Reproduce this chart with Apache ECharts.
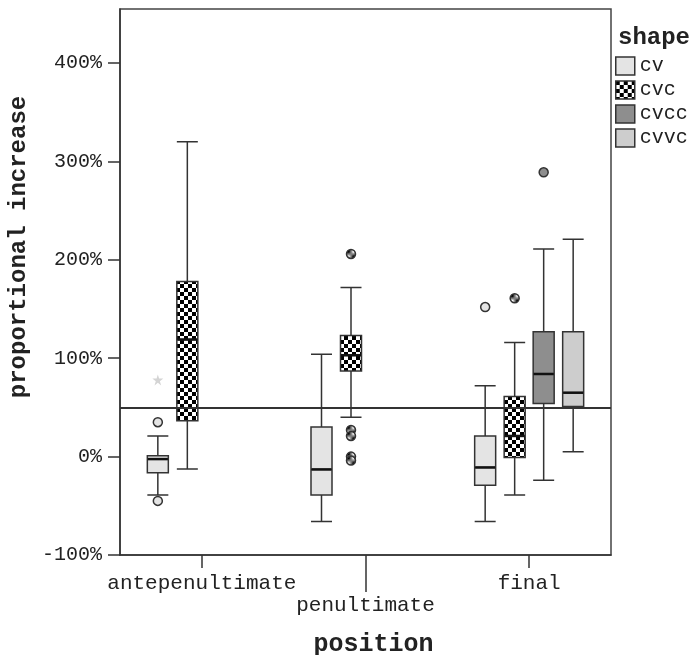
<!DOCTYPE html>
<html>
<head>
<meta charset="utf-8">
<script src="https://cdn.jsdelivr.net/npm/echarts@6/dist/echarts.min.js"></script>
<style>
  html, body { margin: 0; padding: 0; background: #fff; }
  #chart { width: 696px; height: 655px; }
</style>
</head>
<body>
<div id="chart"></div>
<script>
// positions on the x axis
const categories = ['antepenultimate', 'penultimate', 'final']
const shapes = ['cv', 'cvc', 'cvcc', 'cvvc']
const yTicks = [-100, 0, 100, 200, 300, 400]
const refLine = 50

// [min, Q1, median, Q3, max] in %, '-' = no box
const NA = ['-', '-', '-', '-', '-']
const cvBox = [[-39, -16.5, -2.5, 1, 21], [-66, -39, -13, 30, 104], [-66, -29, -11, 21, 72]]
const cvcBox = [[-12.5, 36.5, 119, 178, 320], [40, 87, 103, 123, 172], [-39, -1, 21, 61, 116]]
const cvccBox = [NA, NA, [-24, 54, 84, 127, 211]]
const cvvcBox = [NA, NA, [5, 51, 65, 127, 221]]

// outliers
const cvOutliers = [['antepenultimate', 35], ['antepenultimate', -45], ['final', 152]]
const cvExtremes = [['antepenultimate', 78]]
const cvcOutliers = [['penultimate', 206], ['penultimate', 27], ['penultimate', 21], ['penultimate', 0], ['penultimate', -4], ['final', 161]]
const cvccOutliers = [['final', 289]]
const cvvcOutliers = []

function checker () {
  const c = document.createElement('canvas')
  c.width = 8
  c.height = 8
  const g = c.getContext('2d')
  g.fillStyle = '#fff'
  g.fillRect(0, 0, 8, 8)
  g.fillStyle = '#000'
  g.fillRect(0, 0, 4, 4)
  g.fillRect(4, 4, 4, 4)
  return c
}

const FONT = 'Liberation Mono'
const INK = '#333'
const fills = ['#e4e4e4', { image: checker(), repeat: 'repeat' }, '#8e8e8e', '#cdcdcd']
const boxes = [cvBox, cvcBox, cvccBox, cvvcBox]
const outliers = [cvOutliers, cvcOutliers, cvccOutliers, cvvcOutliers]
// horizontal shift of each shape's box from the category centre (px)
const boxShift = [-44, -14.5, 14.5, 44]

const G = { left: 120, top: 9, width: 491, height: 546, outerBoundsMode: 'none', containLabel: false }
const Y_MIN = -100
const Y_MAX = 455

const grids = [
  Object.assign({ show: true, borderColor: '#444', borderWidth: 1.5 }, G),
  Object.assign({}, G)
]
const xAxes = [
  {
    type: 'category', gridIndex: 0, data: categories, position: 'bottom',
    axisLine: { onZero: false, lineStyle: { color: INK, width: 1.5 } },
    axisTick: { show: true, interval: 0, alignWithLabel: true, length: 13, lineStyle: { color: INK, width: 1.5 } },
    axisLabel: {
      interval: 0, margin: 17, color: '#222', fontFamily: FONT, fontSize: 21, lineHeight: 22,
      formatter: (v, i) => (i === 1 ? '\n' + v : v)
    },
    name: 'position', nameLocation: 'middle', nameGap: 77,
    nameTextStyle: { fontFamily: FONT, fontWeight: 'bold', fontSize: 25, color: '#222', padding: [0, 0, 0, 16] }
  },
  {
    // long tick under the staggered label (own grid so it stays at the bottom)
    type: 'category', gridIndex: 1, data: categories, position: 'bottom',
    axisLine: { show: true, onZero: false, lineStyle: { color: 'rgba(0,0,0,0)', width: 0 } },
    axisTick: {
      show: true, alignWithLabel: true, length: 37,
      interval: (idx, val) => val === 'penultimate',
      lineStyle: { color: INK, width: 1.5 }
    },
    axisLabel: { show: true, interval: 0, formatter: () => '' }
  }
]
const yAxes = [
  {
    type: 'value', gridIndex: 0, min: Y_MIN, max: Y_MAX, interval: 100,
    axisLine: { show: true, lineStyle: { color: INK, width: 1.5 } },
    axisTick: { show: true, length: 12, customValues: yTicks, lineStyle: { color: INK, width: 1.5 } },
    axisLabel: { customValues: yTicks, formatter: '{value}%', margin: 18, color: '#222', fontFamily: FONT, fontSize: 20 },
    splitLine: { show: false },
    name: 'proportional increase', nameLocation: 'middle', nameGap: 78,
    nameTextStyle: { fontFamily: FONT, fontWeight: 'bold', fontSize: 24, color: '#222', padding: [0, 0, 0, 70] }
  },
  { type: 'value', gridIndex: 1, min: Y_MIN, max: Y_MAX, show: false }
]

const series = [{
  // anchors the long-tick grid
  name: 'tick anchor', type: 'scatter', xAxisIndex: 1, yAxisIndex: 1, data: [], silent: true
}]
shapes.forEach((s, i) => {
  grids.push(Object.assign({}, G, { left: G.left + boxShift[i] }))
  xAxes.push({ type: 'category', gridIndex: i + 2, data: categories, show: false, axisLine: { onZero: false } })
  yAxes.push({ type: 'value', gridIndex: i + 2, min: Y_MIN, max: Y_MAX, show: false })
  series.push({
    name: s, type: 'boxplot', xAxisIndex: i + 2, yAxisIndex: i + 2,
    boxWidth: [21, 21], data: boxes[i],
    itemStyle: { color: fills[i], borderColor: INK, borderWidth: 1.5 }
  })
  // thick median bar, as in the original
  series.push({
    name: s + ' median', type: 'scatter', xAxisIndex: i + 2, yAxisIndex: i + 2,
    symbol: 'rect', symbolSize: [20, 2.5], silent: true,
    data: boxes[i].map((b, j) => [categories[j], b[2]]),
    itemStyle: { color: '#111', opacity: 1 }
  })
  series.push({
    name: s + ' outliers', type: 'scatter', xAxisIndex: i + 2, yAxisIndex: i + 2,
    symbol: 'circle', symbolSize: 9, data: outliers[i],
    itemStyle: { color: fills[i], borderColor: INK, borderWidth: 1.5, opacity: 1 }
  })
})
series.push({
  name: 'cv extremes', type: 'scatter', xAxisIndex: 2, yAxisIndex: 2,
  symbol: 'path://M50,0 L61,35 L98,35 L68,57 L79,91 L50,70 L21,91 L32,57 L2,35 L39,35 Z',
  symbolSize: 11, data: cvExtremes, itemStyle: { color: '#d4d4d4', opacity: 1 }
})
series.push({
  name: 'reference', type: 'line', xAxisIndex: 0, yAxisIndex: 0, data: [],
  markLine: {
    silent: true, symbol: 'none', label: { show: false },
    lineStyle: { color: INK, width: 2, type: 'solid' },
    data: [{ yAxis: refLine }]
  }
})

const chart = echarts.init(document.getElementById('chart'))
chart.setOption({
  animation: false,
  backgroundColor: '#fff',
  title: {
    text: 'shape', left: 618, top: 26, padding: 0,
    textStyle: { fontFamily: FONT, fontWeight: 'bold', fontSize: 24, color: '#222' }
  },
  legend: {
    data: shapes.map((s, i) => ({
      name: s,
      itemStyle: { color: fills[i], borderColor: INK, borderWidth: 1.5 }
    })),
    orient: 'vertical', left: 615, top: 56, padding: 0,
    icon: 'rect', itemWidth: 19, itemHeight: 18, itemGap: 4, selectedMode: false,
    textStyle: { fontFamily: FONT, fontSize: 20, lineHeight: 18, color: '#222' }
  },
  grid: grids,
  xAxis: xAxes,
  yAxis: yAxes,
  series: series
})
</script>
</body>
</html>
